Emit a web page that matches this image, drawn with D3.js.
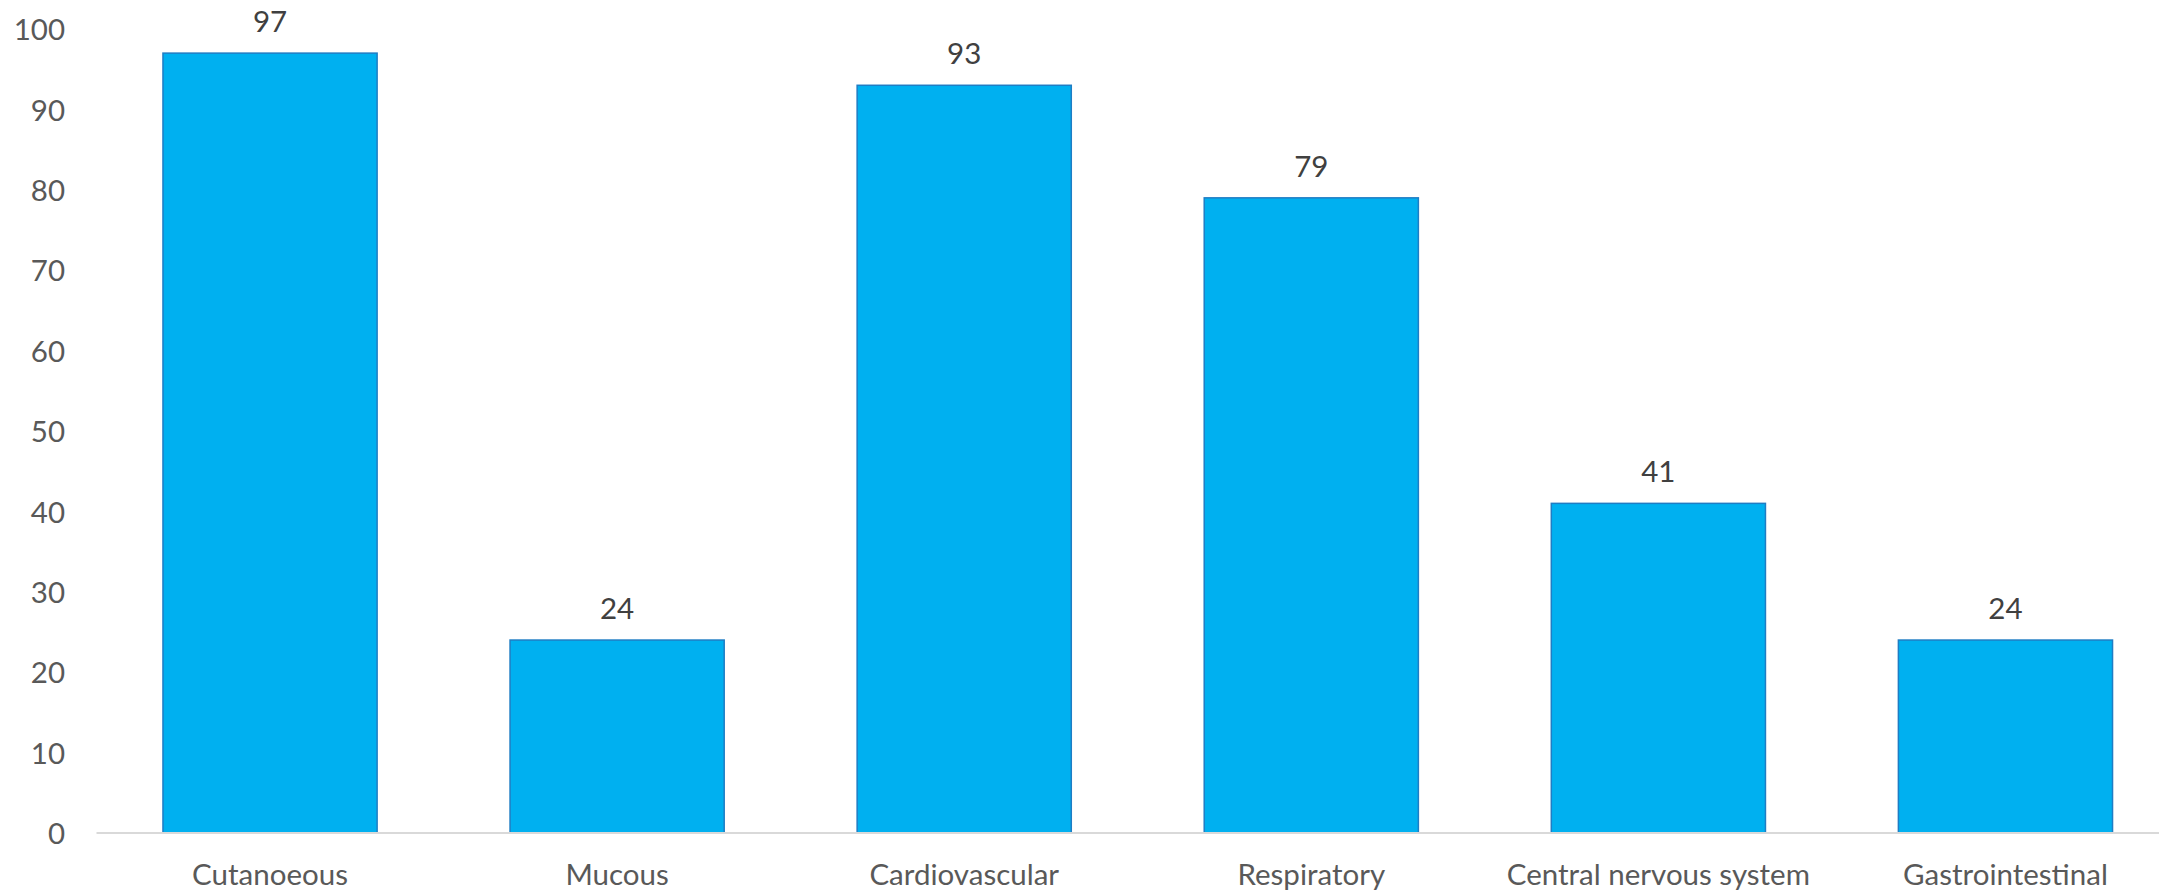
<!DOCTYPE html>
<html>
<head>
<meta charset="utf-8">
<script src="https://cdn.jsdelivr.net/npm/d3@7"></script>
<style>
  html, body { margin: 0; padding: 0; background: #ffffff; }
  svg { display: block; }
  text { font-family: Lato, "Open Sans", sans-serif; }
</style>
</head>
<body>
<svg id="chart" width="2159" height="892"></svg>
<script>
// Reported reactions by organ system
const categories = ["Cutanoeous", "Mucous", "Cardiovascular", "Respiratory", "Central nervous system", "Gastrointestinal"];
const counts = [97, 24, 93, 79, 41, 24];
const yTicks = [0, 10, 20, 30, 40, 50, 60, 70, 80, 90, 100];

const width = 2159, height = 892;
const fontSize = 29.5;
const svg = d3.select("#chart");

const x = d3.scaleBand()
  .domain(categories)
  .range([96.5, 2179])
  .paddingInner(0.383)
  .paddingOuter(0.1915);

const y = d3.scaleLinear()
  .domain([0, 100])
  .range([833, 29]);

// value axis labels
const yAxis = d3.axisLeft(y).tickValues(yTicks).tickSize(0).tickPadding(0);
const gy = svg.append("g").attr("transform", "translate(65,0)").call(yAxis);
gy.select(".domain").remove();
gy.selectAll("text")
  .attr("fill", "#595959")
  .attr("font-size", fontSize)
  .attr("font-family", "Lato, 'Open Sans', sans-serif")
  .attr("dy", "0.36em");

// bars
svg.append("g").selectAll("rect")
  .data(categories)
  .join("rect")
  .attr("x", d => x(d))
  .attr("width", x.bandwidth())
  .attr("y", (d, i) => y(counts[i]))
  .attr("height", (d, i) => y(0) - y(counts[i]))
  .attr("fill", "#00B0F0")
  .attr("stroke", "#1F7DC4")
  .attr("stroke-width", 1.5);

// category axis with baseline
const xAxis = d3.axisBottom(x).tickSize(0).tickPadding(0);
const gx = svg.append("g").attr("transform", `translate(0,${y(0)})`).call(xAxis);
gx.select(".domain")
  .attr("d", `M96.5,0H${width}`)
  .attr("stroke", "#D9D9D9")
  .attr("stroke-width", 2);
gx.selectAll("text")
  .attr("fill", "#595959")
  .attr("font-size", fontSize)
  .attr("font-family", "Lato, 'Open Sans', sans-serif")
  .attr("dy", null)
  .attr("y", 52);

// value labels above bars
svg.append("g").selectAll("text")
  .data(categories)
  .join("text")
  .attr("x", d => x(d) + x.bandwidth() / 2)
  .attr("y", (d, i) => y(counts[i]) - 21)
  .attr("text-anchor", "middle")
  .attr("fill", "#404040")
  .attr("font-size", fontSize)
  .text((d, i) => counts[i]);
</script>
</body>
</html>
